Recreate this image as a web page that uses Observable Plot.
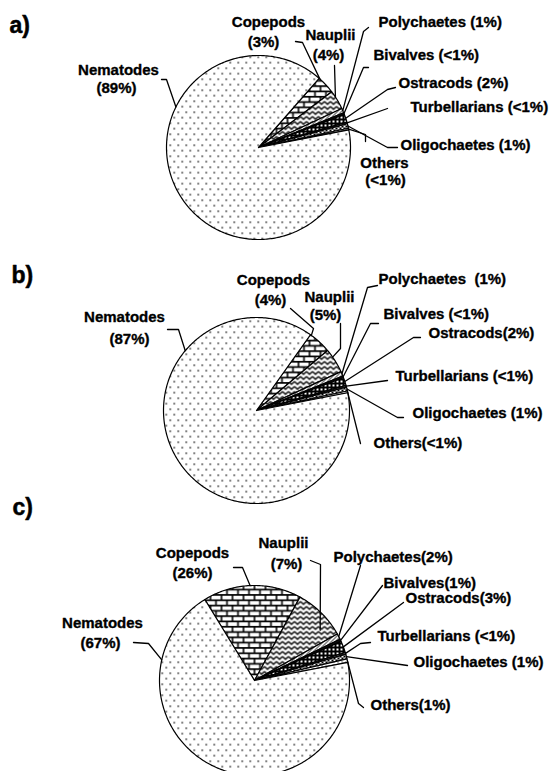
<!DOCTYPE html>
<html><head><meta charset="utf-8">
<script src="https://cdn.jsdelivr.net/npm/d3@7"></script>
<script src="https://cdn.jsdelivr.net/npm/@observablehq/plot@0.6"></script>
<style>html,body{margin:0;padding:0;background:#fff}</style>
</head><body><div id="chart"></div>
<script>
// ---------- DATA ----------
const categories = ["Copepods","Nauplii","Polychaetes","Bivalves","Ostracods","Turbellarians","Oligochaetes","Others","Nematodes"];
// slice shares (%) as drawn in each pie
const valuesA = [3.2, 3.4, 0.8, 0.3, 1.4, 0.3, 0.8, 0.3, 89.5];
const valuesB = [4.0, 4.3, 0.8, 0.3, 1.4, 0.3, 0.7, 0.3, 87.9];
const valuesC = [16.7, 8.9, 1.0, 0.4, 2.0, 0.3, 0.8, 0.6, 69.3];
// printed labels
const labelsA = ["Copepods\n(3%)","Nauplii\n(4%)","Polychaetes (1%)","Bivalves (<1%)","Ostracods (2%)","Turbellarians (<1%)","Oligochaetes (1%)","Others\n(<1%)","Nematodes\n(89%)"];
const labelsB = ["Copepods\n(4%)","Nauplii\n(5%)","Polychaetes  (1%)","Bivalves (<1%)","Ostracods(2%)","Turbellarians (<1%)","Oligochaetes (1%)","Others(<1%)","Nematodes\n(87%)"];
const labelsC = ["Copepods\n(26%)","Nauplii\n(7%)","Polychaetes(2%)","Bivalves(1%)","Ostracods(3%)","Turbellarians (<1%)","Oligochaetes (1%)","Others(1%)","Nematodes\n(67%)"];
const panelLetters = ["a)","b)","c)"];

// ---------- LAYOUT ----------
const patterns = ["pBrick","pZig","pDiag","pBlack","pCheck","pBlack2","pCross","pWhite","pDots"];
const panels = [
  {cx:258, cy:147, r:92, end:79, letter:[9,25]},
  {cx:256, cy:410, r:93, end:79, letter:[11,275]},
  {cx:254, cy:680, r:95, end:79, letter:[12,507]}
];
// per category: text line positions, leader elbow points, target [t along slice, radius factor]
const layoutA = [
  {lines:[[268,22],[263,42]], leader:[[295,41],[302,42]], tgt:[0.05,1]},
  {lines:[[330,35],[328,55]], leader:[[334,65]], tgt:[0.33,1]},
  {lines:[[378,22]], leader:[[368,27],[363,31]], tgt:[0.5,1]},
  {lines:[[373,55]], leader:[[368,67],[363,67]], tgt:[0.5,1]},
  {lines:[[398,83]], leader:[[395,87],[387,89]], tgt:[0.5,1]},
  {lines:[[410,107]], leader:[[387,108]], tgt:[0.5,1]},
  {lines:[[400,145]], leader:[[397,147],[387,147]], tgt:[0.5,1]},
  {lines:[[384,163],[385,180]], leader:[[365,141],[365,134]], tgt:[0.5,1]},
  {lines:[[118,70],[116,88]], leader:[[161,79],[166,79]], tgt:[0.674,1]}
];
const layoutB = [
  {lines:[[273,280],[270,300]], leader:[[290,308],[313,328]], tgt:[0.05,1]},
  {lines:[[329,297],[325,315]], leader:[[340,323],[340,348]], tgt:[0.33,1]},
  {lines:[[378,279]], leader:[[377,285],[367,287]], tgt:[0.5,1]},
  {lines:[[383,314]], leader:[[378,323],[370,323]], tgt:[0.5,1]},
  {lines:[[428,333]], leader:[[420,337],[413,337]], tgt:[0.5,1]},
  {lines:[[395,376]], leader:[[387,380]], tgt:[0.5,1]},
  {lines:[[412,413]], leader:[[403,417],[397,417]], tgt:[0.5,1]},
  {lines:[[373,443]], leader:[[360,443]], tgt:[0.5,1]},
  {lines:[[124,317],[129,339]], leader:[[167,329],[178,329]], tgt:[0.73,1]}
];
const layoutC = [
  {lines:[[192,553],[192,573]], leader:[[233,567],[242,567]], tgt:[0.48,1]},
  {lines:[[283,543],[286,564]], leader:[[310,560],[320,564]], tgt:[0.75,0.87]},
  {lines:[[333,557]], leader:[[360,565]], tgt:[0.5,1]},
  {lines:[[383,583]], leader:[[382,585]], tgt:[0.5,1]},
  {lines:[[405,598]], leader:[[403,602]], tgt:[0.5,1]},
  {lines:[[377,636]], leader:[[370,642],[360,643]], tgt:[0.5,1]},
  {lines:[[413,662]], leader:[[407,665]], tgt:[0.5,1]},
  {lines:[[370,705]], leader:[[363,707],[358,703]], tgt:[0.5,1]},
  {lines:[[102,623],[100,643]], leader:[[133,642],[148,643]], tgt:[0.816,1]}
];

// ---------- BUILD ----------
const rad = d => d*Math.PI/180;
function slicesOf(values, P){
  const total = d3.sum(values);
  const small = d3.sum(values.slice(0, values.length-1));
  let a = P.end - 360*small/total;
  return values.map((v,i)=>{const a0=a, a1=a+360*v/total; a=a1; return {i,a0,a1};});
}
const pt = (P, ang, rf) => ({x: P.cx + P.r*rf*Math.sin(rad(ang)), y: P.cy - P.r*rf*Math.cos(rad(ang))});

const sliceMarks = [], leaderRows = [], textMid = [], textStart = [];
[[valuesA,labelsA,layoutA],[valuesB,labelsB,layoutB],[valuesC,labelsC,layoutC]].forEach(([vals,labs,lay],p)=>{
  const P = panels[p];
  const sl = slicesOf(vals, P);
  sl.forEach(s=>{
    const pts=[{x:P.cx,y:P.cy}];
    const n=Math.max(2,Math.ceil(s.a1-s.a0));
    for(let k=0;k<=n;k++) pts.push(pt(P, s.a0+(s.a1-s.a0)*k/n, 1));
    pts.push({x:P.cx,y:P.cy});
    sliceMarks.push(Plot.line(pts,{x:"x",y:"y",fill:`url(#${patterns[s.i]})`,stroke:"black",strokeWidth:1.2,strokeLinejoin:"round"}));
    const L = lay[s.i];
    const key = p+"-"+s.i;
    L.leader.forEach(([x,y])=>leaderRows.push({key,x,y}));
    const end = pt(P, s.a0+(s.a1-s.a0)*L.tgt[0], L.tgt[1]);
    leaderRows.push({key,x:end.x,y:end.y});
    const parts = labs[s.i].split("\n");
    parts.forEach((t,j)=>{
      const [x,y]=L.lines[j];
      (parts.length>1?textMid:textStart).push({x,y,t});
    });
  });
});
const letterRows = panelLetters.map((t,p)=>({t,x:panels[p].letter[0],y:panels[p].letter[1]}));

const defs = () => {
  const d = d3.create("svg:defs");
  d.html(`
  <pattern id="pDots" width="8" height="11" patternUnits="userSpaceOnUse">
    <rect width="8" height="11" fill="white"/>
    <rect x="1" y="1" width="1.4" height="1.4" fill="#000"/>
    <rect x="5" y="6.5" width="1.4" height="1.4" fill="#000"/>
  </pattern>
  <pattern id="pBrick" width="11" height="10.6" patternUnits="userSpaceOnUse">
    <rect width="11" height="10.6" fill="white"/>
    <path d="M0,0.8H11M0,6.1H11M1,0.8V6.1M6.5,6.1V10.6" stroke="black" stroke-width="1.6" fill="none"/>
  </pattern>
  <pattern id="pZig" width="6" height="5" patternUnits="userSpaceOnUse">
    <rect width="6" height="5" fill="white"/>
    <path d="M0,1L3,3.8L6,1" stroke="black" stroke-width="1.3" fill="none"/>
  </pattern>
  <pattern id="pDiag" width="4" height="4" patternUnits="userSpaceOnUse">
    <rect width="4" height="4" fill="white"/>
    <path d="M0,4L4,0" stroke="black" stroke-width="1"/>
  </pattern>
  <pattern id="pBlack" width="4" height="4" patternUnits="userSpaceOnUse">
    <rect width="4" height="4" fill="#111"/>
  </pattern>
  <pattern id="pBlack2" width="3" height="3" patternUnits="userSpaceOnUse">
    <rect width="3" height="3" fill="#222"/><rect x="1" y="1" width="1" height="1" fill="white"/>
  </pattern>
  <pattern id="pCheck" width="4" height="4" patternUnits="userSpaceOnUse">
    <rect width="4" height="4" fill="black"/>
    <rect width="2" height="2" fill="white"/>
  </pattern>
  <pattern id="pCross" width="4" height="4" patternUnits="userSpaceOnUse">
    <rect width="4" height="4" fill="white"/>
    <path d="M0,0L4,4M4,0L0,4" stroke="black" stroke-width="1"/>
  </pattern>
  <pattern id="pWhite" width="4" height="4" patternUnits="userSpaceOnUse">
    <rect width="4" height="4" fill="white"/>
    <rect x="1" y="1" width="1" height="1" fill="black"/>
  </pattern>`);
  return d.node();
};

const font = "'Liberation Sans', Arial, sans-serif";
const textOpts = {fontSize:15, fontWeight:"bold", fill:"black", stroke:"black", strokeWidth:0.35};
const chart = Plot.plot({
  width: 549, height: 771, margin: 0,
  x: {domain:[0,549], axis:null},
  y: {domain:[0,771], reverse:true, axis:null},
  style: {background:"white", fontFamily: font},
  marks: [
    defs,
    ...sliceMarks,
    Plot.line(leaderRows, {x:"x", y:"y", z:"key", stroke:"black", strokeWidth:1.3}),
    Plot.text(textMid, {x:"x", y:"y", text:"t", textAnchor:"middle", ...textOpts}),
    Plot.text(textStart, {x:"x", y:"y", text:"t", textAnchor:"start", ...textOpts}),
    Plot.text(letterRows, {x:"x", y:"y", text:"t", textAnchor:"start", fontSize:23, fontWeight:"bold", fill:"black", stroke:"black", strokeWidth:0.5})
  ]
});
document.getElementById("chart").appendChild(chart);
</script>
</body></html>
